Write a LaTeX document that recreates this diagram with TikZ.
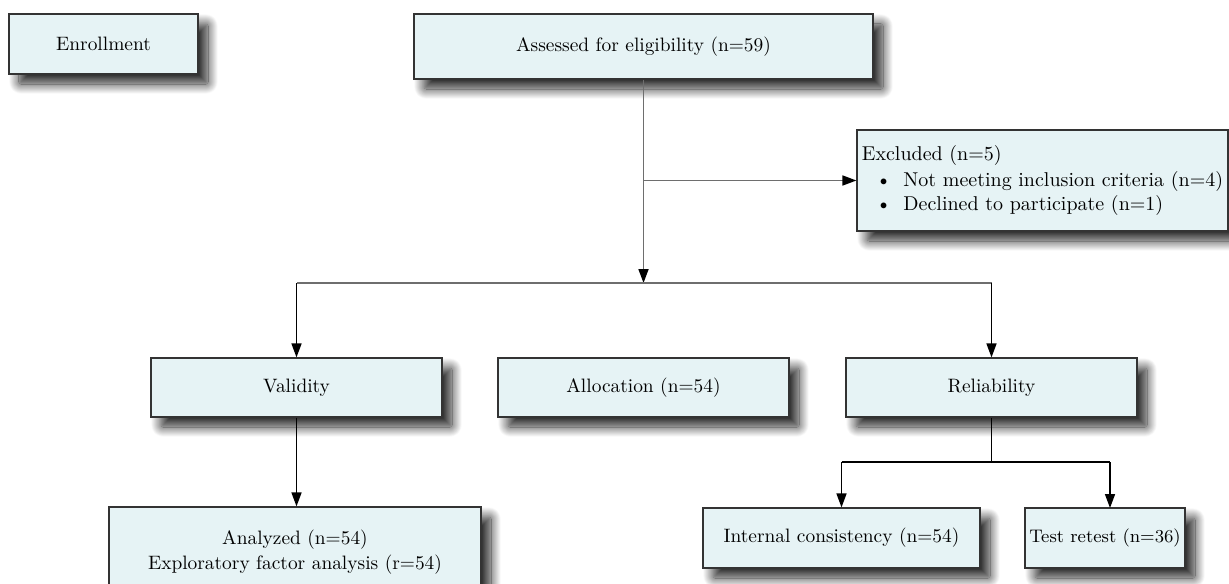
\documentclass[tikz,border=0pt]{standalone}
\usetikzlibrary{arrows.meta,shadows.blur,calc}
\definecolor{boxfill}{HTML}{E6F3F5}
\definecolor{boxline}{HTML}{333333}
\definecolor{linegray}{HTML}{6E6E6E}
\begin{document}
\begin{tikzpicture}[x=0.5pt,y=-0.5pt,
  flowbox/.style={draw=boxline, line width=0.6pt, fill=boxfill, inner sep=0pt,
    font=\fontsize{9.7}{12.5}\selectfont, text=black, align=center,
    blur shadow={shadow xshift=5pt, shadow yshift=-5pt, shadow blur radius=5pt,
      shadow blur extra rounding=1pt, shadow blur steps=25, shadow opacity=85}},
  conn/.style={line width=0.8pt, draw=black},
  connG/.style={line width=0.85pt, draw=linegray},
  tip/.style={-{Triangle[length=7pt,width=5pt,color=black]}}
]
\useasboundingbox (0,0) rectangle (1229,583);
\clip (0,0) rectangle (1229,583);

\node[flowbox, minimum width=94.5pt, minimum height=30pt] (enroll) at (103.5,44) {Enrollment};
\node[flowbox, minimum width=229.5pt, minimum height=32.5pt] (assess) at (643.5,46.5) {Assessed for eligibility (n=59)};
\node[flowbox, minimum width=185.5pt, minimum height=50.5pt, align=left, font=\fontsize{10}{12.5}\selectfont] (excl) at (1042.5,180.5)
  {Excluded (n=5)\\[0.5pt]
   \hspace*{7pt}\textbullet\hspace{6pt}Not meeting inclusion criteria (n=4)\\[-0.5pt]
   \hspace*{7pt}\textbullet\hspace{6pt}Declined to participate (n=1)};

\node[flowbox, minimum width=145.5pt, minimum height=29.5pt] (valid) at (296.5,387.5) {Validity};
\node[flowbox, minimum width=145.5pt, minimum height=29.5pt] (alloc) at (643.5,387.5) {Allocation (n=54)};
\node[flowbox, minimum width=145.5pt, minimum height=29.5pt] (rel) at (991.5,387.5) {Reliability};

\node[flowbox, minimum width=186pt, minimum height=45.5pt] (anal) at (295,552.5) {Analyzed (n=54)\\Exploratory factor analysis (r=54)};
\node[flowbox, minimum width=138.5pt, minimum height=30pt] (intc) at (841.5,538) {Internal consistency (n=54)};
\node[flowbox, minimum width=80pt, minimum height=30pt, font=\fontsize{9.1}{12}\selectfont] (test) at (1105,538) {Test retest (n=36)};

\coordinate (split) at (643.5,283);
\coordinate (rsplit) at (991.5,462);
\coordinate (ttop) at (1110,508);

\draw[connG, tip] (assess.south) -- (split);
\draw[connG, tip] (assess.south |- excl.west) -- (excl.west);
\draw[connG] (split) -- (split -| valid.north);
\draw[connG] (split) -- (split -| rel.north);
\draw[conn, tip] (split -| valid.north) -- (valid.north);
\draw[conn, tip] (split -| rel.north) -- (rel.north);
\draw[conn, tip] (valid.south) -- (valid.south |- anal.north);
\draw[conn] (rel.south) -- (rsplit);
\draw[conn] (intc.north |- rsplit) -- (ttop |- rsplit);
\draw[conn, tip] (intc.north |- rsplit) -- (intc.north);
\draw[conn, tip] (ttop |- rsplit) -- (ttop);
\end{tikzpicture}
\end{document}
